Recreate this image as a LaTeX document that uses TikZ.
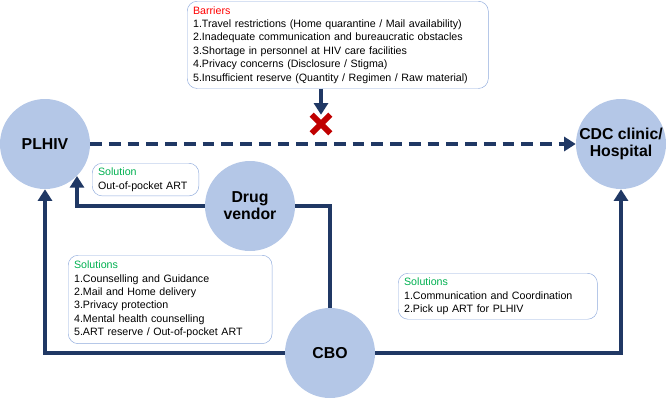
\documentclass[tikz,border=0pt]{standalone}
\usepackage{fontspec}
\setmainfont{Liberation Sans}
\usetikzlibrary{arrows.meta,positioning,shapes.misc}

\definecolor{navy}{HTML}{203864}
\definecolor{circfill}{HTML}{B4C7E7}
\definecolor{boxline}{HTML}{8FAADC}
\definecolor{solgreen}{HTML}{00B050}
\definecolor{barred}{HTML}{FF0000}
\definecolor{crossred}{HTML}{C00000}

\begin{document}
\begin{tikzpicture}[x=0.3mm,y=-0.3mm]
            \tikzstyle{actor} = [circle, fill=circfill, minimum size=27mm, inner sep=0pt, align=center, font=\fontsize{13.5}{14.5}\selectfont\bfseries]
            \tikzstyle{note} = [draw=boxline, rounded corners=3mm, align=left, anchor=north west, inner xsep=5pt, inner ysep=4pt, font=\fontsize{9.1}{11.4}\selectfont]
            \tikzstyle{flow} = [draw=navy, line width=4pt, -{Triangle[length=10pt,width=12pt]}]
            \tikzstyle{link} = [draw=navy, line width=4pt]

            \useasboundingbox (0,0) rectangle (667,400);

            \node [actor] (plhiv) at (45,144) {PLHIV};
            \node [actor] (cdc) at (621,144) {CDC clinic/\\Hospital};
            \node [actor] (drug) at (250,206) {Drug\\vendor};
            \node [actor] (cbo) at (330,353) {CBO};
            \node [note, text width=247pt, inner ysep=4.5pt] (barriers) at (187,1) {\textcolor{barred}{Barriers}\\
                1.Travel restrictions (Home quarantine / Mail availability)\\
                2.Inadequate communication and bureaucratic obstacles\\
                3.Shortage in personnel at HIV care facilities\\
                4.Privacy concerns (Disclosure / Stigma)\\
                5.Insufficient reserve (Quantity / Regimen / Raw material)};
            \node [cross out, draw=crossred, line width=5pt, minimum size=3.8mm, inner sep=0pt] (stop) at (321,124) {};
            \node [note, text width=81pt] (vendorsol) at (92,163) {\textcolor{solgreen}{Solution}\\Out-of-pocket ART};
            \node [note, text width=164pt, inner ysep=5pt] (cbosol) at (68,255) {\textcolor{solgreen}{Solutions}\\
                1.Counselling and Guidance\\
                2.Mail and Home delivery\\
                3.Privacy protection\\
                4.Mental health counselling\\
                5.ART reserve / Out-of-pocket ART};
            \node [note, text width=160pt] (clinicsol) at (398,273) {\textcolor{solgreen}{Solutions}\\
                1.Communication and Coordination\\
                2.Pick up ART for PLHIV};

            \draw [flow] (barriers.south -| stop) -- (stop.north);
            \draw [flow, dash pattern=on 10pt off 6pt] (plhiv) -- (cdc);
            \draw [flow] (drug.west) -| (plhiv.-45);
            \draw [link] (cbo.north) |- (drug.east);
            \draw [flow] (cbo.west) -| (plhiv.south);
            \draw [flow] (cbo.east) -| (cdc.south);
\end{tikzpicture}
\end{document}
